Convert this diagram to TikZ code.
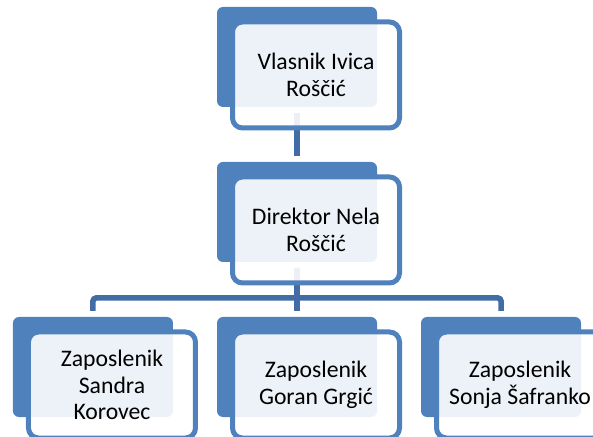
\documentclass[tikz,border=0pt]{standalone}
\usepackage{fontspec}
\setmainfont{Carlito}
\usepackage{xcolor}
\usepackage{tikz}
\usetikzlibrary{positioning,calc}
\definecolor{orgblue}{RGB}{79,129,189}
\definecolor{orgline}{RGB}{65,108,165}

\begin{document}
\begin{tikzpicture}[
  backbox/.style={rectangle, fill=orgblue, rounded corners=3pt, inner sep=0pt,
                  outer sep=0pt, minimum width=80pt, minimum height=50pt},
  frontbox/.style={rectangle, draw=orgblue, line width=2.5pt, fill=white,
                   fill opacity=0.9, text opacity=1, rounded corners=5pt,
                   minimum width=83.5pt, minimum height=53pt, align=center,
                   font=\fontsize{11.85}{13.3}\selectfont, text=black},
  conn/.style={draw=orgline, line width=2.75pt, shorten <=3pt, shorten >=3pt},
  node distance=27.5pt and 22pt
]

%% white page, same margins as the reference
\path[use as bounding box, fill=white] (-148.5pt,-190pt) rectangle (148pt,28.5pt);

%% Back (filled) boxes
\node[backbox]                      (vlasnikbg)  {};
\node[backbox, below=of vlasnikbg]  (direktorbg) {};
\node[backbox, below=of direktorbg] (goranbg)    {};
\node[backbox, left=of goranbg]     (sandrabg)   {};
\node[backbox, right=of goranbg]    (sonjabg)    {};

%% Connectors
\coordinate (bus) at ($(direktorbg.south)+(0,-18pt)$);
\draw[conn] (vlasnikbg.south)  -- (direktorbg.north);
\draw[conn] (direktorbg.south) -- (goranbg.north);
\draw[conn, rounded corners=1.5pt] (direktorbg.south) -- (bus) -| (sandrabg.north);
\draw[conn, rounded corners=1.5pt] (direktorbg.south) -- (bus) -| (sonjabg.north);

%% Front (outlined) boxes with the names
\node[frontbox, xshift=9.5pt, yshift=-9pt] (vlasnik)  at (vlasnikbg)  {Vlasnik Ivica\\Roščić};
\node[frontbox, xshift=9.5pt, yshift=-9pt] (direktor) at (direktorbg) {Direktor Nela\\Roščić};
\node[frontbox, xshift=9.5pt, yshift=-9pt] (sandra)   at (sandrabg)   {Zaposlenik\\Sandra\\Korovec};
\node[frontbox, xshift=9.5pt, yshift=-9pt] (goran)    at (goranbg)    {Zaposlenik\\Goran Grgić};
\node[frontbox, xshift=9.5pt, yshift=-9pt] (sonja)    at (sonjabg)    {Zaposlenik\\Sonja Šafranko};

\end{tikzpicture}
\end{document}
